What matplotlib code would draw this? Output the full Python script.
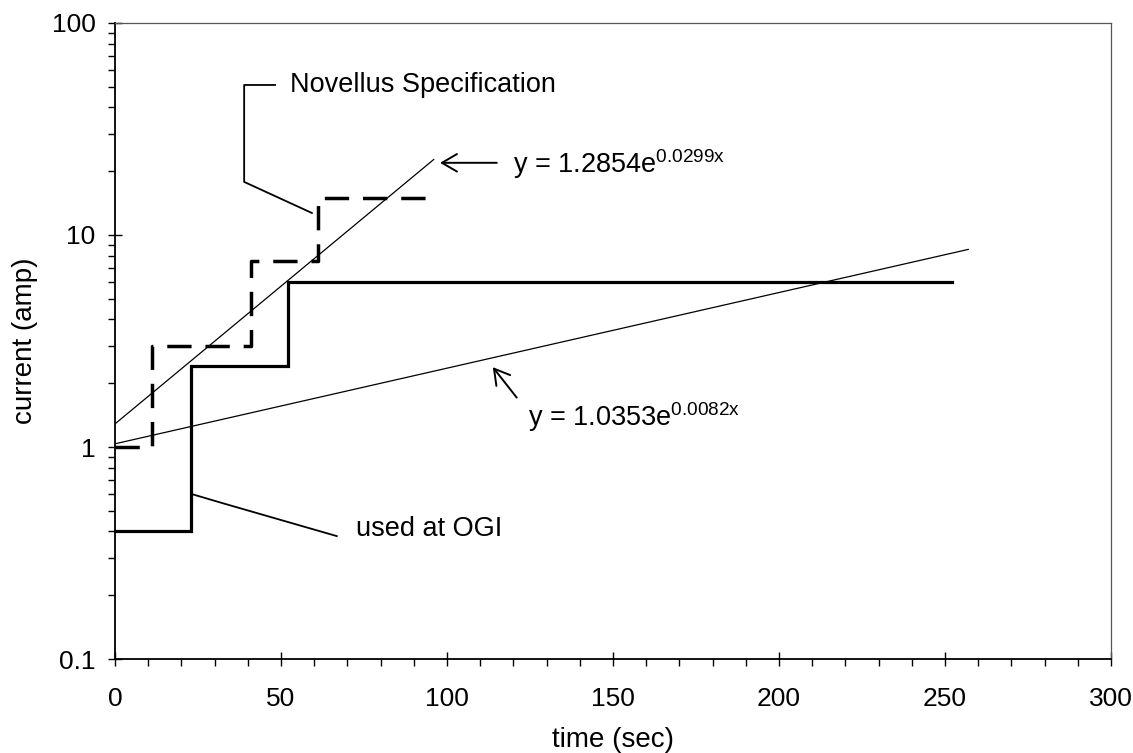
import numpy as np
import matplotlib.pyplot as plt
from matplotlib.ticker import MultipleLocator, LogLocator, NullFormatter, FixedLocator

plt.rcParams['font.family'] = ['Liberation Sans', 'DejaVu Sans']
plt.rcParams['mathtext.fontset'] = 'custom'
plt.rcParams['mathtext.rm'] = 'Liberation Sans'

# --- data ---
# current profile used at OGI (solid steps)
ogi_t = [0, 23, 23, 52, 52, 252]
ogi_i = [0.4, 0.4, 2.4, 2.4, 6.0, 6.0]

# Novellus specification (dashed steps)
nov_t = [0, 11, 11, 41, 41, 61, 61, 94]
nov_i = [1.0, 1.0, 3.0, 3.0, 7.5, 7.5, 15.0, 15.0]

# exponential trend lines (straight on log axis): end points
fit1_t = [0, 96]
fit1_i = [1.2854, 22.7]
fit2_t = [0, 257]
fit2_i = [1.0353, 8.55]

x_ticks = [0, 50, 100, 150, 200, 250, 300]
y_ticks = [0.1, 1, 10, 100]
y_ticklabels = ['0.1', '1', '10', '100']

fig = plt.figure(figsize=(11.33, 7.53), dpi=100)
ax = fig.add_axes([0.1015, 0.1248, 0.8791, 0.8447])

ax.plot(fit1_t, fit1_i, color='black', lw=0.9)
ax.plot(fit2_t, fit2_i, color='black', lw=0.9)
ax.plot(ogi_t, ogi_i, color='black', lw=2.3, solid_joinstyle='miter')
ax.plot(nov_t, nov_i, color='black', lw=2.5, dashes=(7, 4))

ax.set_yscale('log')
ax.set_xlim(0, 300)
ax.set_ylim(0.1, 100)

ax.xaxis.set_major_locator(FixedLocator(x_ticks))
ax.xaxis.set_minor_locator(MultipleLocator(10))
ax.yaxis.set_major_locator(FixedLocator(y_ticks))
ax.set_yticklabels(y_ticklabels)
ax.yaxis.set_minor_locator(LogLocator(base=10, subs=np.arange(2, 10)))
ax.yaxis.set_minor_formatter(NullFormatter())

ax.tick_params(which='major', direction='inout', length=10, width=1, labelsize=19)
ax.tick_params(which='minor', direction='out', length=5, width=1)
ax.tick_params(axis='x', which='major', pad=15)
ax.tick_params(axis='y', which='major', pad=9)

for s in ['left', 'bottom']:
    ax.spines[s].set_linewidth(1.3)
for s in ['top', 'right']:
    ax.spines[s].set_linewidth(0.9)
    ax.spines[s].set_color('#555555')

ax.set_xlabel('time (sec)', fontsize=20, labelpad=12)
ax.set_ylabel('current (amp)', fontsize=20, labelpad=10)

# annotations
txt = 19.5
arrow = dict(arrowstyle='->,head_length=0.6,head_width=0.35', color='black',
             lw=1.4, mutation_scale=18, shrinkA=0, shrinkB=0)

ax.plot([48.2, 38.9, 38.9, 59.3], [51, 51, 17.8, 12.7], color='black', lw=1.3)
ax.text(52.7, 51, 'Novellus Specification', fontsize=txt, va='center', ha='left')

ax.annotate('', xy=(97.9, 21.9), xytext=(115, 21.9), arrowprops=arrow)
ax.text(120, 21.5, r'y = 1.2854e$^{\mathregular{0.0299x}}$', fontsize=txt,
        va='center', ha='left')

ax.annotate('', xy=(113.8, 2.38), xytext=(121, 1.71), arrowprops=arrow)
ax.text(124.5, 1.39, r'y = 1.0353e$^{\mathregular{0.0082x}}$', fontsize=txt,
        va='center', ha='left')

ax.plot([23.4, 33, 66.8], [0.598, 0.54, 0.38], color='black', lw=1.3)
ax.text(72.6, 0.41, 'used at OGI', fontsize=txt, va='center', ha='left')

fig.savefig('out.png', dpi=100)
